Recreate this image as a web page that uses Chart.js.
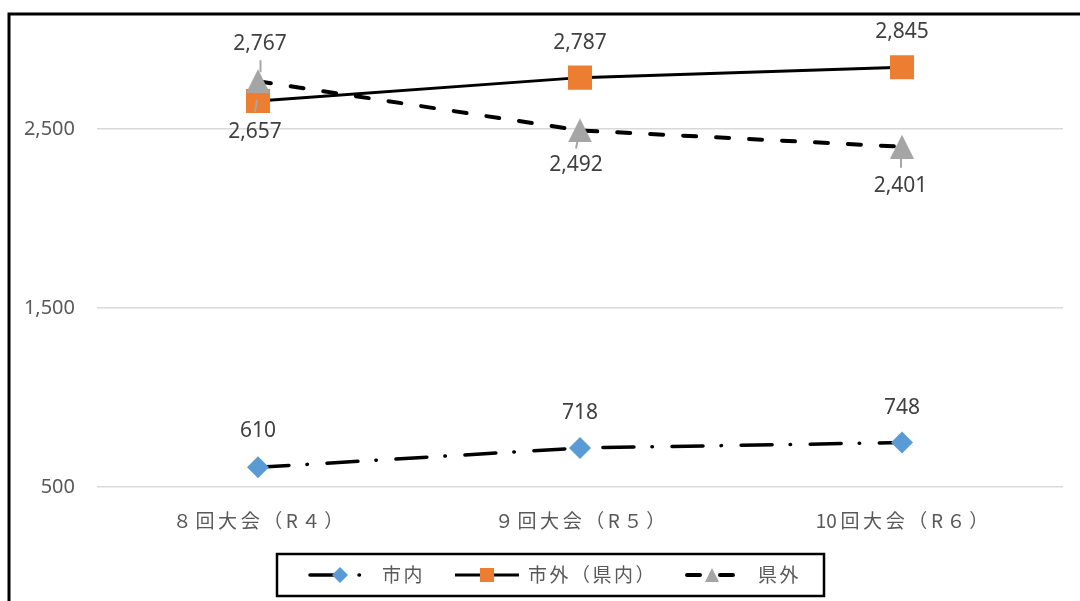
<!DOCTYPE html>
<html><head><meta charset="utf-8">
<script src="https://cdn.jsdelivr.net/npm/chart.js@4.4.1/dist/chart.umd.min.js"></script>
<style>html,body{margin:0;padding:0;background:#fff}#wrap{width:1080px;height:601px;position:relative}canvas{display:block}</style>
</head><body><div id="wrap"><canvas id="c" width="1080" height="601"></canvas></div>
<script>
// ---- data ----
const categories = ['８回大会（R４）', '９回大会（R５）', '10回大会（R６）'];
const seriesNames = ['市内', '市外（県内）', '県外'];
const cityInside = [610, 718, 748];
const cityOutsidePref = [2657, 2787, 2845];
const outsidePref = [2767, 2492, 2401];
const yTicks = [500, 1500, 2500];
const yMin = 500, yMax = 3000;

// ---- styles ----
const NUM_FONT = '"Noto Sans", sans-serif';
const JP_FONT = '"Noto Sans CJK JP", sans-serif';
const fmt = v => Number(v).toLocaleString('en-US');

function makeTriangle(w, h, color) {
  const c = document.createElement('canvas');
  c.width = w; c.height = h;
  const g = c.getContext('2d');
  g.fillStyle = color;
  g.beginPath(); g.moveTo(w / 2, 0); g.lineTo(w, h); g.lineTo(0, h); g.closePath(); g.fill();
  return c;
}
const triBig = makeTriangle(24, 24, '#a5a5a5');

function spacedText(ctx, text, x, y, spacing, align) {
  // draws text with letter spacing (none between consecutive ASCII digits)
  ctx.save();
  ctx.textAlign = 'left';
  const chars = Array.from(text);
  const widths = chars.map(ch => ctx.measureText(ch).width);
  const gaps = chars.map((ch, i) => i === chars.length - 1 ? 0 :
    (/[0-9]/.test(ch) && /[0-9]/.test(chars[i + 1]) ? 0 : spacing));
  const total = widths.reduce((a, b) => a + b, 0) + gaps.reduce((a, b) => a + b, 0);
  let cx = align === 'center' ? x - total / 2 : x;
  chars.forEach((ch, i) => { ctx.fillText(ch, cx, y); cx += widths[i] + gaps[i]; });
  ctx.restore();
}

const labelPlugin = {
  id: 'pointLabels',
  afterDatasetsDraw(chart) {
    const ctx = chart.ctx;
    chart.data.datasets.forEach((ds, di) => {
      const meta = chart.getDatasetMeta(di);
      meta.data.forEach((pt, i) => {
        ctx.save();
        const ld = ds.leaders && ds.leaders[i];
        if (ld) {
          ctx.strokeStyle = '#a6a6a6'; ctx.lineWidth = 2;
          ctx.beginPath(); ctx.moveTo(pt.x + ld[0], pt.y + ld[1]); ctx.lineTo(pt.x + ld[2], pt.y + ld[3]); ctx.stroke();
        }
        ctx.fillStyle = '#404040';
        ctx.font = '21px ' + NUM_FONT;
        ctx.textAlign = 'center'; ctx.textBaseline = 'middle';
        ctx.fillText(fmt(ds.data[i]), pt.x + ds.labelDx[i], pt.y + ds.labelDy[i]);
        ctx.restore();
      });
    });
  }
};

const framePlugin = {
  id: 'frame',
  beforeDraw(chart) {
    const ctx = chart.ctx;
    ctx.save(); ctx.fillStyle = '#fff'; ctx.fillRect(0, 0, chart.width, chart.height); ctx.restore();
  },
  afterDraw(chart) {
    const ctx = chart.ctx;
    ctx.save();
    // category labels along the x scale
    const xs = chart.scales.x;
    ctx.fillStyle = '#595959';
    ctx.font = '19px ' + JP_FONT;
    ctx.textBaseline = 'middle';
    categories.forEach((c, i) => {
      spacedText(ctx, c, xs.getPixelForTick(i), chart.chartArea.bottom + 34, 3.6, 'center');
    });
    ctx.strokeStyle = '#000'; ctx.lineWidth = 3;
    ctx.beginPath(); ctx.moveTo(9, 610); ctx.lineTo(9, 14); ctx.lineTo(1090, 14); ctx.stroke();
    // legend
    ctx.lineWidth = 2.5;
    ctx.strokeRect(277, 554, 547, 42);
    const ly = 575;
    const items = [
      {x1: 310, x2: 370, mx: 340, tx: 382},
      {x1: 455, x2: 519, mx: 487, tx: 528},
      {x1: 687, x2: 737, mx: 712, tx: 758}
    ];
    chart.data.datasets.forEach((ds, i) => {
      const it = items[i];
      ctx.save();
      ctx.strokeStyle = ds.borderColor; ctx.lineWidth = ds.borderWidth;
      ctx.lineCap = ds.borderCapStyle || 'butt';
      ctx.setLineDash(ds.borderDash || []);
      ctx.beginPath(); ctx.moveTo(it.x1, ly); ctx.lineTo(it.x2, ly); ctx.stroke();
      ctx.restore();
      ctx.fillStyle = ds.pointBackgroundColor;
      if (i === 0) {
        const r = 8;
        ctx.beginPath(); ctx.moveTo(it.mx, ly - r); ctx.lineTo(it.mx + r, ly); ctx.lineTo(it.mx, ly + r); ctx.lineTo(it.mx - r, ly); ctx.closePath(); ctx.fill();
      } else if (i === 1) {
        ctx.fillRect(it.mx - 7, ly - 7, 14, 14);
      } else {
        ctx.beginPath(); ctx.moveTo(it.mx, ly - 7); ctx.lineTo(it.mx + 7, ly + 7); ctx.lineTo(it.mx - 7, ly + 7); ctx.closePath(); ctx.fill();
      }
      ctx.fillStyle = '#595959';
      ctx.font = '19px ' + JP_FONT;
      ctx.textBaseline = 'middle';
      spacedText(ctx, ds.label, it.tx, ly, 2.5, 'left');
    });
    ctx.restore();
  }
};

new Chart(document.getElementById('c'), {
  type: 'line',
  data: {
    labels: categories,
    datasets: [
      {
        label: seriesNames[0], data: cityInside,
        borderColor: '#000', borderWidth: 3.5, borderDash: [31, 18, 0.5, 19.6], borderCapStyle: 'round',
        pointStyle: 'rectRot', pointRadius: 11, pointBackgroundColor: '#5b9bd5', pointBorderColor: '#5b9bd5', pointBorderWidth: 0,
        order: 3,
        labelDx: [0, 0, 0], labelDy: [-36, -35, -35], leaders: [null, null, null]
      },
      {
        label: seriesNames[1], data: cityOutsidePref,
        borderColor: '#000', borderWidth: 3,
        pointStyle: 'rect', pointRadius: 17, pointBackgroundColor: '#ed7d31', pointBorderColor: '#ed7d31', pointBorderWidth: 0,
        order: 2,
        labelDx: [-3, 0, 0], labelDy: [31, -35, -35], leaders: [[-1, -1, -3, 11], null, null]
      },
      {
        label: seriesNames[2], data: outsidePref,
        borderColor: '#000', borderWidth: 4, borderDash: [13, 20], borderCapStyle: 'round',
        pointStyle: triBig, pointBackgroundColor: '#a5a5a5', pointBorderColor: '#a5a5a5',
        order: 1,
        labelDx: [2, -4, -1.5], labelDy: [-37, 35, 39], leaders: [[2.5, -21, 2.5, -9], [-2, 8, -4, 18], [-1, 10, -1, 21]]
      }
    ]
  },
  options: {
    responsive: false, animation: false, devicePixelRatio: 1,
    layout: {padding: {left: 0, right: 14, top: 39.5, bottom: 0}},
    plugins: {legend: {display: false}, tooltip: {enabled: false}, title: {display: false}},
    elements: {line: {tension: 0}},
    scales: {
      x: {
        offset: true,
        grid: {display: false, drawTicks: false}, border: {display: false},
        ticks: {display: false},
        afterFit(s) { s.height = 114; }
      },
      y: {
        min: yMin, max: yMax,
        afterBuildTicks(s) { s.ticks = yTicks.map(v => ({value: v})); },
        grid: {color: '#d9d9d9', lineWidth: 1.5, drawTicks: false}, border: {display: false},
        ticks: {color: '#595959', font: {family: NUM_FONT, size: 20}, padding: 22, callback: v => fmt(v)},
        afterFit(s) { s.width = 97; }
      }
    }
  },
  plugins: [labelPlugin, framePlugin]
});
</script>
</body></html>
